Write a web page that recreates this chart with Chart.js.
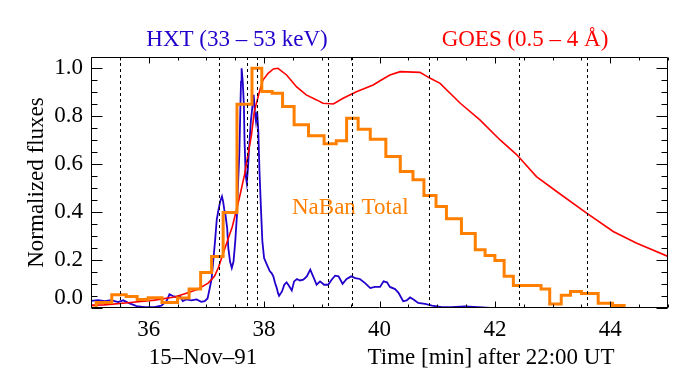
<!DOCTYPE html>
<html><head><meta charset="utf-8">
<script src="https://cdn.jsdelivr.net/npm/chart.js@4/dist/chart.umd.min.js"></script>
<style>html,body{margin:0;padding:0;background:#fff;}#wrap{width:683px;height:375px;}</style>
</head><body><div id="wrap"><canvas id="c" width="683" height="375"></canvas></div>
<script>
// ---- data (time in minutes after 22:00 UT, normalized flux) ----
const hxtTime = [35.00,35.12,35.24,35.35,35.47,35.56,35.67,35.79,35.93,36.10,36.22,36.31,36.36,36.42,36.48,36.54,36.59,36.65,36.74,36.83,36.91,36.97,37.02,37.06,37.09,37.12,37.15,37.18,37.21,37.24,37.27,37.29,37.31,37.33,37.36,37.38,37.41,37.44,37.47,37.50,37.53,37.55,37.57,37.59,37.60,37.61,37.63,37.65,37.66,37.68,37.70,37.72,37.74,37.77,37.80,37.82,37.84,37.86,37.88,37.90,37.92,37.95,37.97,38.00,38.05,38.10,38.13,38.16,38.19,38.22,38.24,38.26,38.31,38.35,38.39,38.43,38.48,38.52,38.57,38.62,38.68,38.74,38.80,38.85,38.91,38.97,39.04,39.11,39.17,39.23,39.29,39.36,39.43,39.51,39.58,39.66,39.75,39.84,39.92,40.01,40.07,40.13,40.18,40.27,40.33,40.41,40.47,40.53,40.59,40.67,40.79,40.91,41.08,41.25,41.48,41.71,41.92,45.00];
const hxtFlux = [0.030,0.033,0.029,0.033,0.025,0.032,0.019,0.008,0.004,0.004,0.010,0.029,0.057,0.050,0.046,0.051,0.029,0.036,0.032,0.036,0.026,0.029,0.040,0.085,0.120,0.200,0.280,0.370,0.410,0.445,0.465,0.444,0.410,0.389,0.333,0.250,0.194,0.167,0.194,0.278,0.389,0.528,0.639,0.847,0.944,1.000,0.944,0.847,0.708,0.555,0.521,0.583,0.667,0.778,0.847,0.889,0.819,0.778,0.819,0.736,0.569,0.389,0.278,0.208,0.180,0.153,0.146,0.132,0.104,0.083,0.063,0.051,0.069,0.097,0.107,0.093,0.073,0.111,0.121,0.115,0.118,0.132,0.160,0.132,0.097,0.111,0.097,0.097,0.118,0.135,0.132,0.101,0.121,0.132,0.125,0.121,0.104,0.083,0.088,0.088,0.111,0.107,0.088,0.079,0.063,0.028,0.032,0.044,0.035,0.021,0.017,0.010,0.004,0.004,0.007,0.004,0.000,0.000];

const goesTime = [35.00,35.23,35.64,36.10,36.45,36.68,36.85,37.03,37.14,37.21,37.30,37.45,37.57,37.66,37.72,37.78,37.83,37.92,37.98,38.07,38.16,38.24,38.39,38.56,38.73,38.91,39.02,39.20,39.37,39.60,39.89,40.01,40.18,40.36,40.70,40.88,41.05,41.40,41.74,42.09,42.38,42.72,43.07,43.59,44.05,44.45,45.00];
const goesFlux = [0.012,0.013,0.022,0.033,0.046,0.064,0.078,0.104,0.132,0.170,0.235,0.340,0.458,0.555,0.639,0.720,0.819,0.903,0.951,0.979,0.997,1.000,0.972,0.923,0.889,0.868,0.854,0.851,0.875,0.902,0.930,0.948,0.972,0.986,0.983,0.958,0.937,0.854,0.785,0.701,0.639,0.548,0.486,0.396,0.319,0.271,0.215];

// NaBan Total: bin start times and values (last entry closes the histogram)
const nabanTime = [35.00,35.09,35.36,35.61,35.80,35.99,36.23,36.50,36.70,36.90,37.09,37.29,37.53,37.79,37.96,38.14,38.32,38.52,38.77,39.04,39.25,39.43,39.63,39.84,40.11,40.36,40.58,40.77,40.98,41.16,41.42,41.66,41.83,42.00,42.16,42.32,42.80,42.95,43.15,43.31,43.50,43.79,44.04,44.24];
const nabanFlux = [0.000,0.023,0.055,0.048,0.035,0.043,0.023,0.042,0.079,0.148,0.215,0.398,0.850,1.000,0.903,0.896,0.840,0.764,0.718,0.685,0.698,0.792,0.746,0.704,0.632,0.569,0.535,0.469,0.423,0.372,0.311,0.243,0.219,0.198,0.132,0.094,0.079,0.017,0.053,0.069,0.060,0.020,0.010,0.000];

const markerTimes = [35.51,37.21,37.71,37.87,39.11,39.53,40.86,42.41,43.60];

const xTickValues = [36,38,40,42,44];
const xTickLabels = ['36','38','40','42','44'];
const yTickValues = [0,0.2,0.4,0.6,0.8,1.0];
const yTickLabels = ['0.0','0.2','0.4','0.6','0.8','1.0'];

const SERIF = '"Liberation Serif", "Times New Roman", serif';
const FS = 23;

function pts(xs, ys){ return xs.map((t,i)=>({x:t, y:ys[i]})); }

const decorPlugin = {
  id: 'decor',
  afterDatasetsDraw(chart){
    const {ctx, chartArea:a, scales:{x, y}} = chart;
    ctx.save();
    ctx.font = FS + 'px ' + SERIF;
    ctx.fillStyle = '#ff8000';
    ctx.textAlign = 'left'; ctx.textBaseline = 'alphabetic';
    ctx.fillText('NaBan Total', 292, 214);
    // dotted time markers
    ctx.strokeStyle = '#000'; ctx.lineWidth = 1;
    ctx.setLineDash([3,3]);
    markerTimes.forEach(t=>{
      const px = Math.round(x.getPixelForValue(t)) + 0.5;
      ctx.beginPath(); ctx.moveTo(px, a.top); ctx.lineTo(px, a.bottom); ctx.stroke();
    });
    ctx.setLineDash([]);
    // frame
    const L = Math.round(a.left)+0.5, R = Math.round(a.right)-0.5, T = Math.round(a.top)+0.5, B = Math.round(a.bottom)-0.5;
    ctx.beginPath(); ctx.rect(L, T, R-L, B-T); ctx.stroke();
    // x ticks (inside, bottom and top)
    for (let i=0;i<=20;i++){
      const t = x.min + i*0.5;
      const px = Math.round(x.getPixelForValue(t)) + 0.5;
      const len = (Math.abs(t % 2) < 1e-6) ? 6 : 3;
      ctx.beginPath();
      ctx.moveTo(px, B); ctx.lineTo(px, B-len);
      ctx.moveTo(px, T); ctx.lineTo(px, T+len);
      ctx.stroke();
    }
    // y ticks (inside, left and right)
    for (let i=0;i<=21;i++){
      const v = i*0.05;
      if (v > y.max) break;
      const py = Math.round(y.getPixelForValue(v)) + 0.5;
      const len = (i % 4 === 0) ? 11 : 6;
      ctx.beginPath();
      ctx.moveTo(L, py); ctx.lineTo(L+len, py);
      ctx.moveTo(R, py); ctx.lineTo(R-len, py);
      ctx.stroke();
    }
    // titles
    ctx.font = FS + 'px ' + SERIF;
    ctx.textAlign = 'center'; ctx.textBaseline = 'alphabetic';
    ctx.fillStyle = '#2200cc';
    ctx.fillText('HXT (33 \u2013 53 keV)', 237, 46);
    ctx.fillStyle = '#ff0000';
    ctx.fillText('GOES (0.5 \u2013 4 \u00C5)', 525, 46);
    ctx.fillStyle = '#000';
    ctx.fillText('15\u2013Nov\u201391', 203, 364);
    ctx.fillText('Time [min] after 22:00 UT', 491, 364);
    ctx.save();
    ctx.translate(43, (a.top + a.bottom)/2);
    ctx.rotate(-Math.PI/2);
    ctx.fillText('Normalized fluxes', 0, 0);
    ctx.restore();
    ctx.restore();
  }
};

new Chart(document.getElementById('c'), {
  type: 'line',
  data: {
    datasets: [
      { label:'NaBan Total', data: pts(nabanTime, nabanFlux), stepped: 'before', borderColor:'#ff8000', borderWidth:3, pointRadius:0, fill:false, tension:0 },
      { label:'GOES', data: pts(goesTime, goesFlux), borderColor:'#ff0000', borderWidth:1.6, pointRadius:0, fill:false, tension:0 },
      { label:'HXT', data: pts(hxtTime, hxtFlux), borderColor:'#2200cc', borderWidth:1.8, pointRadius:0, fill:false, tension:0 }
    ]
  },
  options: {
    responsive:false, animation:false, devicePixelRatio:1,
    layout:{ padding:{ left:0, right:15, top:57, bottom:0 } },
    plugins:{ legend:{display:false}, tooltip:{enabled:false}, title:{display:false} },
    scales:{
      x:{ type:'linear', min:35, max:45,
          grid:{display:false, drawTicks:false}, border:{display:false},
          afterBuildTicks(s){ s.ticks = xTickValues.map(v=>({value:v})); },
          afterFit(s){ s.height = 67; },
          ticks:{ color:'#000', font:{family:SERIF, size:FS}, padding:8, maxRotation:0, autoSkip:false,
                  callback:(v,i)=> xTickLabels[i] } },
      y:{ type:'linear', min:0, max:1.047,
          grid:{display:false, drawTicks:false}, border:{display:false},
          afterBuildTicks(s){ s.ticks = yTickValues.map(v=>({value:v})); },
          afterFit(s){ s.width = 91; },
          ticks:{ color:'#000', font:{family:SERIF, size:FS, lineHeight:0.9}, padding:8, autoSkip:false,
                  callback:(v,i)=> i===0 ? [yTickLabels[0], ''] : yTickLabels[i] } }
    }
  },
  plugins:[decorPlugin]
});
</script></body></html>
